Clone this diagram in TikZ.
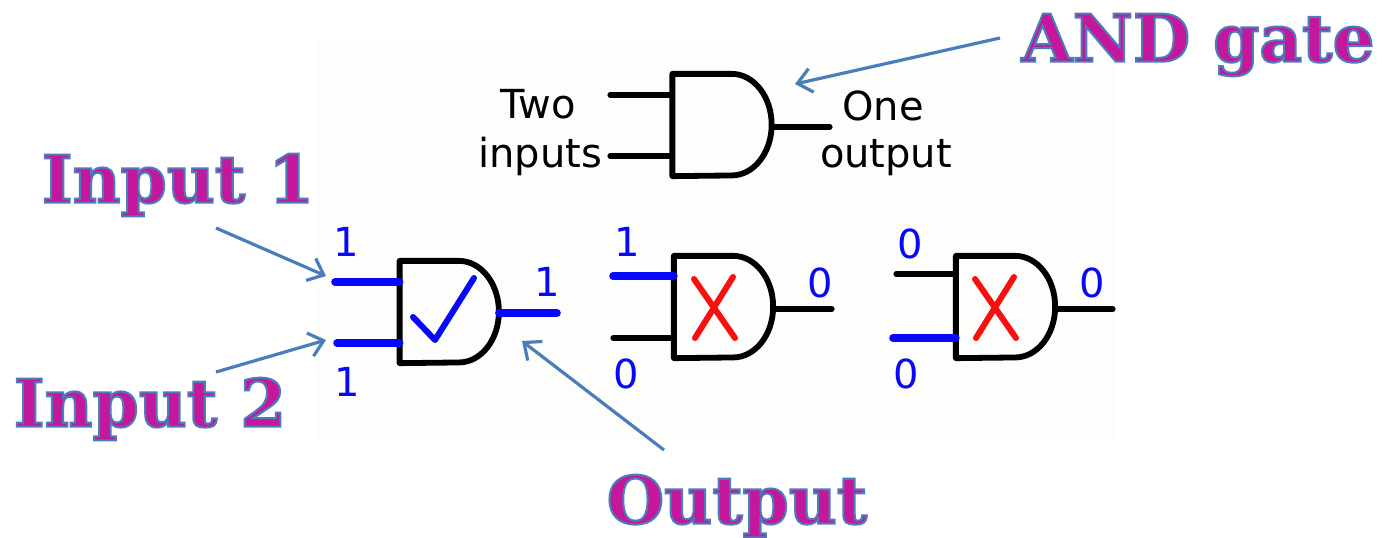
\documentclass[tikz,border=0pt]{standalone}
\usepackage{fontspec}
\usepackage{tikz}
\usetikzlibrary{arrows.meta,calc}
\setmainfont{DejaVu Sans}
\newfontfamily\callfont{DejaVu Serif}[BoldFont={DejaVu Serif Bold}]
\definecolor{paper}{HTML}{FDFDFB}
\definecolor{callblue}{HTML}{4A7EBB}
\definecolor{wireblue}{HTML}{0808F8}
\definecolor{crossred}{HTML}{F81010}
\newcommand{\strokedtext}[1]{\special{pdf:code q 2 Tr 1.0 w 0.29 0.49 0.73 RG 0.77 0.09 0.61 rg}#1\special{pdf:code 0 Tr Q}}
\newcommand{\andgate}[3]{%
  \node[gatebox] (#1) at (#2,#3) {};
  \draw[gateline] (#1.north west) -- ($(#1.north east)+(-20pt,0)$)
    arc[start angle=90, end angle=-90, x radius=20pt, y radius=25.4pt]
    -- (#1.south west) -- cycle;}
\tikzset{
  gatebox/.style={rectangle, inner sep=0pt, minimum width=49.25pt, minimum height=50.75pt},
  gateline/.style={line width=2.9pt, draw=black, line join=round},
  wire/.style={line width=2.6pt, draw=black, line cap=round},
  hotwire/.style={line width=3.8pt, draw=wireblue, line cap=round},
  callarrow/.style={line width=1.6pt, draw=callblue, -{Straight Barb[length=7pt,width=12pt]}},
  calllabel/.style={font=\callfont\bfseries\fontsize{33}{36}\selectfont, inner sep=0pt},
  gatetext/.style={font=\fontsize{20}{22}\selectfont, inner sep=0pt},
  digit/.style={font=\fontsize{20}{22}\selectfont, text=wireblue, inner sep=0pt},
  checkmark/.style={line width=3pt, draw=wireblue, line cap=round, line join=round},
  crossmark/.style={line width=3pt, draw=crossred, line cap=round}
}
\begin{document}
\begin{tikzpicture}[x=0.5pt, y=-0.5pt]
  \useasboundingbox (0,0) rectangle (1382,537);
  \fill[paper] (315,40) rectangle (1115,440);
  % gates
  \andgate{G0}{722}{125}
  \andgate{G1}{449.25}{312}
  \andgate{G2}{723.5}{307}
  \andgate{G3}{1005.5}{307}
  % free wire ends
  \coordinate (G0a) at (610,95);
  \coordinate (G0b) at (610,156);
  \coordinate (G0o) at (830,127);
  \coordinate (G1a) at (335,282);
  \coordinate (G1b) at (337,343);
  \coordinate (G1o) at (557,313);
  \coordinate (G2a) at (613,276);
  \coordinate (G2b) at (613,338);
  \coordinate (G2o) at (832,309);
  \coordinate (G3a) at (896,274);
  \coordinate (G3b) at (893,338);
  \coordinate (G3o) at (1113,309);
  \draw[wire] (G0a) -- (G0a -| G0.west); \draw[wire] (G0b) -- (G0b -| G0.west);
  \draw[wire] (G0o -| G0.east) -- (G0o);
  \draw[hotwire] (G1a) -- (G1a -| G1.west); \draw[hotwire] (G1b) -- (G1b -| G1.west);
  \draw[hotwire] (G1o -| G1.east) -- (G1o);
  \draw[hotwire] (G2a) -- (G2a -| G2.west); \draw[wire] (G2b) -- (G2b -| G2.west);
  \draw[wire] (G2o -| G2.east) -- (G2o);
  \draw[wire] (G3a) -- (G3a -| G3.west); \draw[hotwire] (G3b) -- (G3b -| G3.west);
  \draw[wire] (G3o -| G3.east) -- (G3o);
  % marks
  \draw[checkmark] (413,317) -- (435,340) -- (474,278);
  \draw[crossmark] (694,279) -- (735,338); \draw[crossmark] (733,277) -- (695,338);
  \draw[crossmark] (975,279) -- (1016,338); \draw[crossmark] (1014,277) -- (976,338);
  % texts
  \node[gatetext] (two) at (538,104) {Two};
  \node[gatetext] (inputs) at (540,156) {inputs};
  \node[gatetext] (one) at (883,106) {One};
  \node[gatetext] (output) at (886,158) {output};
  \node[digit] (d1a) at (346,242) {1};
  \node[digit] (d1b) at (347,382) {1};
  \node[digit] (d1o) at (547,282) {1};
  \node[digit] (d2a) at (627,242) {1};
  \node[digit] (d2b) at (626,374) {0};
  \node[digit] (d2o) at (820,283) {0};
  \node[digit] (d3a) at (910,244) {0};
  \node[digit] (d3b) at (906,374) {0};
  \node[digit] (d3o) at (1092,283) {0};
  % callouts
  \node[calllabel] (lblgate) at (1198,45) {\strokedtext{AND gate}};
  \node[calllabel] (lblin1) at (178,185) {\strokedtext{Input 1}};
  \node[calllabel] (lblin2) at (150,409) {\strokedtext{Input 2}};
  \node[calllabel] (lblout) at (737,506) {\strokedtext{Output}};
  \coordinate (tipgate) at (795,84);
  \coordinate (tipin1) at (326,276);
  \coordinate (tipin2) at (326,340);
  \coordinate (tipout) at (522,341);
  \draw[callarrow] (1000,38) -- (tipgate);
  \draw[callarrow] (216,228) -- (tipin1);
  \draw[callarrow] (216,372) -- (tipin2);
  \draw[callarrow] (664,450) -- (tipout);
\end{tikzpicture}
\end{document}
